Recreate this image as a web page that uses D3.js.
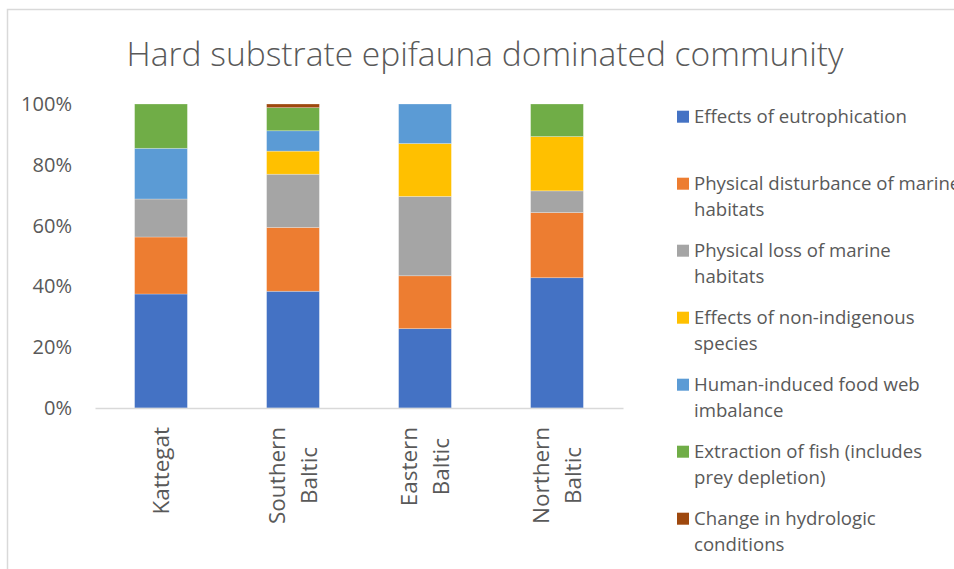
<!DOCTYPE html>
<html>
<head>
<meta charset="utf-8">
<script src="https://cdn.jsdelivr.net/npm/d3@7"></script>
<style>
  html, body { margin: 0; padding: 0; background: #ffffff; }
  svg { display: block; font-family: "Open Sans", "Noto Sans", sans-serif; }
</style>
</head>
<body>
<svg id="chart" width="954" height="569"></svg>
<script>
// Regions shown along the x axis (wrapped onto lines)
const regions = ["Kattegat", "Southern Baltic", "Eastern Baltic", "Northern Baltic"];
const regionLines = [["Kattegat"], ["Southern", "Baltic"], ["Eastern", "Baltic"], ["Northern", "Baltic"]];

// Pressure categories (stack order, bottom to top)
const pressures = [
  "Effects of eutrophication",
  "Physical disturbance of marine habitats",
  "Physical loss of marine habitats",
  "Effects of non-indigenous species",
  "Human-induced food web imbalance",
  "Extraction of fish (includes prey depletion)",
  "Change in hydrologic conditions"
];
const pressureLines = [
  ["Effects of eutrophication"],
  ["Physical disturbance of marine", "habitats"],
  ["Physical loss of marine", "habitats"],
  ["Effects of non-indigenous", "species"],
  ["Human-induced food web", "imbalance"],
  ["Extraction of fish (includes", "prey depletion)"],
  ["Change in hydrologic", "conditions"]
];
const colors = ["#4472C4", "#ED7D31", "#A5A5A5", "#FFC000", "#5B9BD5", "#70AD47", "#9E480E"];

// Share of each pressure per region (%)
const eutrophication   = [37.5, 38.4, 26.1, 42.86];
const physDisturbance  = [18.75, 21.0, 17.4, 21.43];
const physLoss         = [12.5, 17.5, 26.1, 7.14];
const nonIndigenous    = [0, 7.6, 17.4, 17.86];
const foodWeb          = [16.67, 6.7, 13.0, 0];
const fishExtraction   = [14.58, 7.6, 0, 10.71];
const hydrologic       = [0, 1.2, 0, 0];

const yTicks = [0, 20, 40, 60, 80, 100];
const yTickLabels = ["0%", "20%", "40%", "60%", "80%", "100%"];

const series = [eutrophication, physDisturbance, physLoss, nonIndigenous, foodWeb, fishExtraction, hydrologic];
const table = regions.map((r, i) => {
  const row = { region: r };
  pressures.forEach((p, k) => { row[p] = series[k][i]; });
  return row;
});

const svg = d3.select("#chart");
const textColor = "#595959";

// Pick a font size so that a sample string spans the given width
function fitSize(sample, width, weight) {
  const t = svg.append("text").attr("font-size", 20).attr("font-weight", weight || 400).text(sample);
  const w = t.node().getComputedTextLength();
  t.remove();
  return 20 * width / w;
}
const titleSize = fitSize("Hard substrate epifauna dominated community", 717, 300);
const legendSize = fitSize("Effects of eutrophication", 213);
const tickSize = fitSize("100%", 51);
const catSize = fitSize("Southern", 97);

// Chart frame
svg.append("rect")
  .attr("x", 7.5).attr("y", 9.5)
  .attr("width", 960).attr("height", 580)
  .attr("fill", "none").attr("stroke", "#d9d9d9").attr("stroke-width", 1.5);

// Title
svg.append("text")
  .attr("x", 485).attr("y", 66)
  .attr("text-anchor", "middle")
  .attr("fill", textColor)
  .attr("font-weight", 300)
  .attr("font-size", titleSize)
  .text("Hard substrate epifauna dominated community");

const plot = { left: 95, right: 623, top: 104, bottom: 408 };

const x = d3.scaleBand()
  .domain(regions)
  .range([plot.left, plot.right])
  .paddingInner(0.6)
  .paddingOuter(0.3);

const y = d3.scaleLinear()
  .domain([0, 100])
  .range([plot.bottom, plot.top]);

const layers = d3.stack().keys(pressures)(table);

svg.append("g")
  .selectAll("g")
  .data(layers)
  .join("g")
  .attr("fill", (d, i) => colors[i])
  .selectAll("rect")
  .data(d => d)
  .join("rect")
  .attr("x", d => x(d.data.region))
  .attr("width", x.bandwidth())
  .attr("y", d => y(d[1]))
  .attr("height", d => y(d[0]) - y(d[1]))
  .attr("stroke", "#ffffff")
  .attr("stroke-opacity", 0.35)
  .attr("stroke-width", 0.75);

// Y axis (labels only)
const yAxis = d3.axisLeft(y)
  .tickValues(yTicks)
  .tickFormat((d, i) => yTickLabels[i])
  .tickSize(0)
  .tickPadding(0);

const gy = svg.append("g")
  .attr("transform", "translate(72,0)")
  .call(yAxis);
gy.select(".domain").remove();
gy.selectAll("text")
  .attr("fill", textColor)
  .attr("font-size", tickSize)
  .attr("font-family", "\"Open Sans\", sans-serif");

// X axis baseline
const gx = svg.append("g")
  .attr("transform", `translate(0,${plot.bottom})`)
  .call(d3.axisBottom(x).tickSize(0).tickFormat(""));
gx.select(".domain").attr("stroke", "#d9d9d9").attr("stroke-width", 1.5);

// Rotated category labels: lines centred on the longest one, which starts just below the axis
const catG = svg.append("g");
regions.forEach((r, i) => {
  const lines = regionLines[i];
  const cx = x(r) + x.bandwidth() / 2;
  const lh = 32;
  const texts = lines.map((ln, j) => {
    const off = (j - (lines.length - 1) / 2) * lh;
    return catG.append("text")
      .attr("text-anchor", "middle")
      .attr("fill", textColor)
      .attr("font-size", catSize)
      .text(ln)
      .datum(cx + off + 8);
  });
  const maxLen = d3.max(texts, t => t.node().getComputedTextLength());
  const cy = 427 + maxLen / 2;
  texts.forEach(t => t.attr("transform", `translate(${t.datum()},${cy}) rotate(-90)`));
});

// Legend
const leg = svg.append("g");
pressureLines.forEach((lines, k) => {
  const cy = 116.7 + k * 67;
  leg.append("rect")
    .attr("x", 677).attr("y", cy - 6)
    .attr("width", 12).attr("height", 12)
    .attr("fill", colors[k]);
  lines.forEach((ln, j) => {
    leg.append("text")
      .attr("x", 694)
      .attr("y", cy + j * 25.7)
      .attr("dy", "0.35em")
      .attr("fill", textColor)
      .attr("font-size", legendSize)
      .text(ln);
  });
});
</script>
</body>
</html>
